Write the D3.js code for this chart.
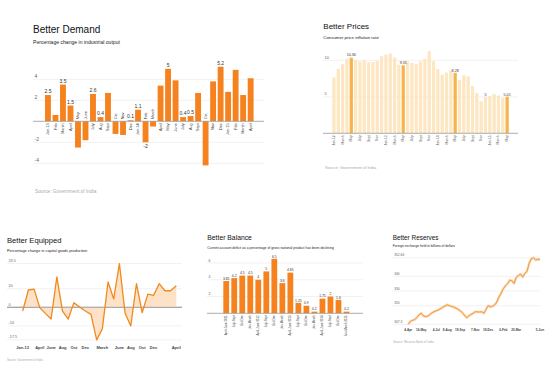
<!DOCTYPE html>
<html><head><meta charset="utf-8">
<script src="https://cdn.jsdelivr.net/npm/d3@7"></script>
<style>
body{margin:0;background:#fff;}
svg{display:block;font-family:"Liberation Sans",Arial,Helvetica,sans-serif;}
</style>
</head><body><svg id="c" width="553" height="369"></svg>
<script>
// ---------- DATA ----------
const demandMonths = ["Jan-13","Feb","March","April","May","June","July","Aug","Sept","Oct","Nov","Dec","Jan-14","Feb","March","April","May","June","July","Aug","Sept","Oct","Nov","Dec","Jan-15","Feb","March","April"];
const demandValues = [2.5,0.6,3.5,1.5,-2.5,-1.8,2.6,0.4,2.7,-1.2,-1.3,0.1,1.1,-2,-0.5,3.4,5,3.9,0.4,0.5,2.7,-4.2,3.8,5.2,2.8,4.9,2.5,4.1];
const demandLabels = ["2.5","","3.5","1.5","","","2.6","0.4","","","","0.1","1.1","-2","","","5","","0.4","0.5","","","","5.2","","","",""];
const demandTicks = [4,2,-2,-4];

const priceMonths = ["Jan-12","Feb","March","April","May","June","July","Aug","Sept","Oct","Nov","Dec","Jan-13","Feb","March","April","May","June","July","Aug","Sept","Oct","Nov","Dec","Jan-14","Feb","March","April","May","June","July","Aug","Sept","Oct","Nov","Dec","Jan-15","Feb","March","April","May"];
const priceValues = [7.65,8.83,9.47,10.22,10.36,10.05,9.84,10.03,9.73,9.75,9.90,10.56,10.79,10.91,10.39,9.39,9.31,9.87,9.64,9.52,9.84,10.17,11.24,9.87,8.79,8.03,8.31,8.59,8.28,7.31,7.96,7.80,6.46,5.52,4.38,5.0,5.11,5.37,5.17,4.87,5.01];
const priceHighlight = ["May","May","May","May"].length && [4,16,28,40];
const priceLabels = {4:"10.36",16:"9.31",28:"8.28",35:"5",40:"5.01"};
const priceTicks = [10,5];

const equipMonths = ["Jan-13","Feb","March","April","May","June","July","Aug","Sept","Oct","Nov","Dec","Jan-14","Feb","March","April","May","June","July","Aug","Sept","Oct","Nov","Dec","Jan-15","Feb","March","April"];
const equipValues = [-2.0,9.3,9.8,-0.2,-3.4,-6.3,16.4,-2.0,-6.3,2.5,0.2,-2.0,-3.8,-17.5,-11.6,13.6,4.5,23.5,-3.2,-10.0,12.7,-2.9,7.1,6.4,12.7,8.9,8.9,11.6];
const equipTickLabels = ["Jan-13","","","April","","June","","Aug","","Oct","","Dec","","","March","","","June","","Aug","","Oct","","Dec","","","","April"];
const equipTicks = [23.5,10,0,-10,-17.5];

const balanceQuarters = ["April-June 2011","July-Sept","Oct-Dec","Jan-March","April-June 2012","July-Sept","Oct-Dec","Jan-March","April-June 2013","July-Sept","Oct-Dec","Jan-March","April-June 2014","July-Sept","Oct-Dec","Jan-March 2015"];
const balanceValues = [3.85,4.2,4.5,4.5,4,5,6.5,3.6,4.85,1.25,0.9,0.2,1.75,2,1.6,0.2];
const balanceTicks = [6,4,2];

const reserveValues = [307.3,309.5,310.0,310.6,312.0,313.8,314.9,313.0,312.6,312.8,314.0,315.2,316.0,316.6,317.2,318.0,319.0,319.8,320.6,320.0,319.6,319.1,318.4,317.6,316.5,315.3,313.6,311.8,313.0,314.0,314.8,315.9,315.8,315.7,315.9,314.8,317.5,320.0,319.3,319.6,320.5,322.5,326.0,328.5,331.6,333.5,335.0,337.4,337.0,335.2,339.3,340.5,341.6,339.5,342.0,343.5,349.0,352.0,352.66,351.2,351.6,351.6];
const reserveTickWeeks = [0,6,13,18,24,31,37,44,50,61];
const reserveTickLabels = ["4-Apr","16-May","4-Jul","8-Aug","19-Sep","7-Nov","19-Dec","6-Feb","20-Mar","5-Jun"];
const reserveTicks = [307.3,320,330,340,352.66];
const reserveTickText = ["307.3","320","330","340","352.66"];

// ---------- STYLE ----------
const ORANGE = "#f5821f";
const GRID = "#e8e8e8";
const ZERO = "#999";
const svg = d3.select("#c");

function titles(g, x, ty, tsize, title, sy, ssize, sub){
  g.append("text").attr("x",x).attr("y",ty).attr("font-size",tsize).attr("fill","#111").text(title);
  g.append("text").attr("x",x).attr("y",sy).attr("font-size",ssize).attr("fill","#222").text(sub);
}
function grid(g, y, ticks, x0, x1, fs, labels){
  ticks.forEach((t,i)=>{
    g.append("line").attr("x1",x0).attr("x2",x1).attr("y1",y(t)).attr("y2",y(t))
      .attr("stroke", t===0?ZERO:GRID).attr("stroke-width", t===0?0.8:0.6);
    g.append("text").attr("x",x0+1.5).attr("y",y(t)-1.5).attr("font-size",fs).attr("fill","#666")
      .text(labels?labels[i]:t);
  });
}

// ---------- PANEL 1: Better Demand ----------
{
  const g = svg.append("g");
  titles(g,33,33,10,"Better Demand",44.3,5.1,"Percentage change in industrial output");
  const x = d3.scaleBand().domain(d3.range(demandValues.length)).range([44.2,254.4]).paddingInner(0.22).paddingOuter(0.11);
  const y = d3.scaleLinear().domain([-5,6]).range([121.3+52.5,121.3-63]);
  grid(g,y,demandTicks,33,264,5);
  g.selectAll("rect.b").data(demandValues).join("rect")
    .attr("x",(d,i)=>x(i)).attr("width",x.bandwidth())
    .attr("y",d=>y(Math.max(0,d))).attr("height",d=>Math.abs(y(d)-y(0))).attr("fill",ORANGE);
  g.append("line").attr("x1",33).attr("x2",264).attr("y1",y(0)).attr("y2",y(0)).attr("stroke",ZERO).attr("stroke-width",0.8);
  demandValues.forEach((d,i)=>{
    const cx = x(i)+x.bandwidth()/2;
    g.append("text").attr("transform",`translate(${cx+1.3},${d>=0?y(0)+2:y(0)-2}) rotate(-90)`)
      .attr("text-anchor",d>=0?"end":"start").attr("font-size",3.8).attr("fill","#333").text(demandMonths[i]);
    if(demandLabels[i]){
      g.append("text").attr("x",cx).attr("y",d>=0?y(d)-2:y(d)+5.5).attr("text-anchor","middle")
        .attr("font-size",5).attr("fill","#333").text(demandLabels[i]);
    }
  });
  g.append("text").attr("x",35).attr("y",193.3).attr("font-size",4.8).attr("fill","#aaa").text("Source: Government of India");
}

// ---------- PANEL 2: Better Prices ----------
{
  const g = svg.append("g");
  titles(g,323.3,28.5,8,"Better Prices",39,4.35,"Consumer price inflation rate");
  const x = d3.scaleBand().domain(d3.range(priceValues.length)).range([331.8,509.3]).paddingInner(0.25).paddingOuter(0.125);
  const y = d3.scaleLinear().domain([0,12]).range([133.3,133.3-87.6]);
  grid(g,y,priceTicks,323,518,4);
  g.selectAll("rect.p").data(priceValues).join("rect")
    .attr("x",(d,i)=>x(i)).attr("width",x.bandwidth())
    .attr("y",d=>y(d)).attr("height",d=>y(0)-y(d))
    .attr("fill",(d,i)=>priceHighlight.includes(i)?"#f6b54c":"#fde6c2");
  g.append("line").attr("x1",323).attr("x2",518).attr("y1",y(0)).attr("y2",y(0)).attr("stroke",ZERO).attr("stroke-width",0.8);
  priceValues.forEach((d,i)=>{
    const cx = x(i)+x.bandwidth()/2;
    if(i%2===0){
      g.append("text").attr("transform",`translate(${cx+1},${y(0)+2}) rotate(-90)`)
        .attr("text-anchor","end").attr("font-size",3.3).attr("fill","#555").text(priceMonths[i]);
    }
    if(priceLabels[i]){
      g.append("text").attr("x",cx).attr("y",y(d)-1.2).attr("text-anchor","middle")
        .attr("font-size",3.7).attr("fill","#333").text(priceLabels[i]);
    }
  });
  g.append("text").attr("x",325).attr("y",169).attr("font-size",4).attr("fill","#aaa").text("Source: Government of India");
}

// ---------- PANEL 3: Better Equipped ----------
{
  const g = svg.append("g");
  titles(g,7,243.3,7.6,"Better Equipped",251.5,3.85,"Percentage change in capital goods production");
  const x = d3.scaleLinear().domain([0,equipValues.length-1]).range([22.7,176.3]);
  const y = d3.scaleLinear().domain([0,10]).range([307.3,288.7]);
  grid(g,y,equipTicks,7,182,3.8,equipTicks.map(String));
  const area = d3.area().x((d,i)=>x(i)).y0(y(0)).y1(d=>y(d));
  g.append("path").datum(equipValues).attr("d",area).attr("fill","#fde2c8");
  g.append("line").attr("x1",7).attr("x2",182).attr("y1",y(0)).attr("y2",y(0)).attr("stroke",ZERO).attr("stroke-width",0.8);
  const line = d3.line().x((d,i)=>x(i)).y(d=>y(d));
  g.append("path").datum(equipValues).attr("d",line).attr("fill","none").attr("stroke","#ef8a1e").attr("stroke-width",1.3).attr("stroke-linejoin","round");
  equipTickLabels.forEach((t,i)=>{
    if(t) g.append("text").attr("x",x(i)).attr("y",348.8).attr("text-anchor","middle").attr("font-size",4).attr("font-weight","bold").attr("fill","#444").text(t);
  });
  g.append("text").attr("x",7).attr("y",361).attr("font-size",2.8).attr("fill","#aaa").text("Source: Government of India");
}

// ---------- PANEL 4: Better Balance ----------
{
  const g = svg.append("g");
  titles(g,207.3,240,6.8,"Better Balance",248.5,3.4,"Current account deficit as a percentage of gross national product has been declining");
  const x = d3.scaleBand().domain(d3.range(balanceValues.length)).range([222.2,350.5]).paddingInner(0.28).paddingOuter(0.14);
  const y = d3.scaleLinear().domain([0,6]).range([313.3,263]);
  grid(g,y,balanceTicks,207,363,3.5);
  g.selectAll("rect.q").data(balanceValues).join("rect")
    .attr("x",(d,i)=>x(i)).attr("width",x.bandwidth())
    .attr("y",d=>y(d)).attr("height",d=>y(0)-y(d)).attr("fill",ORANGE);
  g.append("line").attr("x1",207).attr("x2",363).attr("y1",y(0)).attr("y2",y(0)).attr("stroke",ZERO).attr("stroke-width",0.8);
  balanceValues.forEach((d,i)=>{
    const cx = x(i)+x.bandwidth()/2;
    g.append("text").attr("x",cx).attr("y",y(d)-1.3).attr("text-anchor","middle").attr("font-size",3.4).attr("fill","#333").text(d);
    g.append("text").attr("transform",`translate(${cx+1},${y(0)+2}) rotate(-90)`)
      .attr("text-anchor","end").attr("font-size",2.9).attr("fill","#444").text(balanceQuarters[i]);
  });
}

// ---------- PANEL 5: Better Reserves ----------
{
  const g = svg.append("g");
  titles(g,392.7,239.7,6.4,"Better Reserves",247.3,3.3,"Foreign exchange held in billions of dollars");
  const x = d3.scaleLinear().domain([0,61]).range([408.3,540]);
  const y = d3.scaleLinear().domain([320,340]).range([305.7,276.36]);
  grid(g,y,reserveTicks,392.7,540,3.3,reserveTickText);
  const line = d3.line().x((d,i)=>x(i)).y(d=>y(d));
  g.append("path").datum(reserveValues).attr("d",line).attr("fill","none").attr("stroke","#fbd9b4").attr("stroke-width",2.6).attr("stroke-linejoin","round");
  g.append("path").datum(reserveValues).attr("d",line).attr("fill","none").attr("stroke","#ec9a45").attr("stroke-width",1).attr("stroke-linejoin","round");
  reserveTickWeeks.forEach((w,i)=>{
    g.append("text").attr("x",x(w)).attr("y",331).attr("text-anchor","middle").attr("font-size",3.1).attr("font-weight","bold").attr("fill","#444").text(reserveTickLabels[i]);
  });
  g.append("text").attr("x",393).attr("y",342.5).attr("font-size",3).attr("fill","#aaa").text("Source: Reserve Bank of India");
}
</script>
</body></html>
